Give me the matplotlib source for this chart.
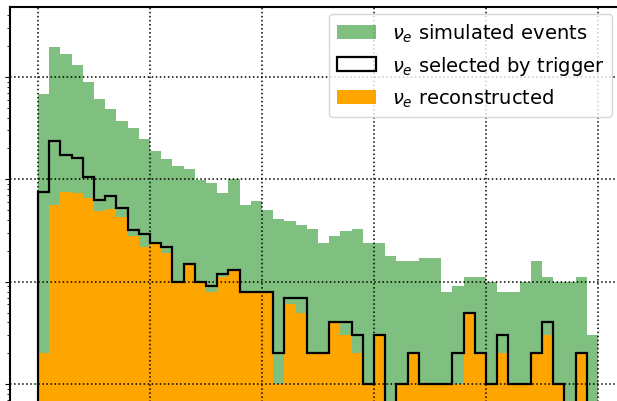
import matplotlib
matplotlib.use("Agg")
import matplotlib.pyplot as plt
import numpy as np

# energy bins, 0.1 wide from 0 to 5
edges = np.linspace(0, 5, 51)
centers = 0.5 * (edges[1:] + edges[:-1])

simulated = [680, 1960, 1690, 1300, 895, 605, 490, 370, 320, 245,
             190, 157, 135, 127, 98, 93, 74, 100, 56, 61,
             50, 41, 39, 36, 33, 24, 28, 31, 33, 24,
             24, 18, 16, 16, 17, 17, 8, 9, 11, 11,
             10, 8, 8, 10, 16, 11, 10, 10, 11, 3]
triggered = [76, 237, 171, 163, 105, 63, 68, 53, 32, 29,
             24, 22, 10, 15, 10, 9, 12, 13, 8, 8,
             8, 2, 7, 7, 2, 2, 4, 4, 3, 1,
             3, 0, 1, 2, 1, 1, 1, 2, 5, 2,
             1, 3, 1, 1, 2, 4, 1, 0, 2, 0]
reconstructed = [2, 56, 75, 73, 66, 49, 51, 43, 28, 22,
                 24, 19, 10, 15, 10, 8, 11, 13, 8, 8,
                 8, 1, 6, 5, 2, 2, 4, 3, 2, 1,
                 3, 0, 1, 2, 1, 1, 1, 1, 5, 2,
                 1, 2, 1, 1, 2, 3, 1, 0, 2, 0]

fig = plt.figure(figsize=(6.17, 4.02), dpi=100)
ax = fig.add_axes([10 / 617, 1 - 438.6 / 402, 616 / 617, 430.6 / 402])

_, _, h_sim = ax.hist(centers, bins=edges, weights=simulated, color="green",
                      alpha=0.5, log=True, label=r"$\nu_e$ simulated events")
_, _, h_rec = ax.hist(centers, bins=edges, weights=reconstructed, color="orange",
                      log=True, label=r"$\nu_e$ reconstructed")
_, _, h_trg = ax.hist(centers, bins=edges, weights=triggered, histtype="step",
                      color="black", linewidth=1.6, log=True,
                      label=r"$\nu_e$ selected by trigger")

ax.set_xlim(-0.25, 5.25)
ax.set_ylim(0.3, 4820)
ax.grid(True, which="major", linestyle=":", color="black", linewidth=1.1)
ax.set_axisbelow(False)
ax.tick_params(labelleft=False, labelbottom=False)
for s in ax.spines.values():
    s.set_linewidth(1.5)

ax.legend([h_sim[0], h_trg[0], h_rec[0]],
          [r"$\nu_e$ simulated events", r"$\nu_e$ selected by trigger",
           r"$\nu_e$ reconstructed"],
          loc="upper right", fontsize=14, borderaxespad=0,
          bbox_to_anchor=(612 / 617, 1 - 15 / 402),
          bbox_transform=fig.transFigure)

fig.savefig("out.png", dpi=100)
